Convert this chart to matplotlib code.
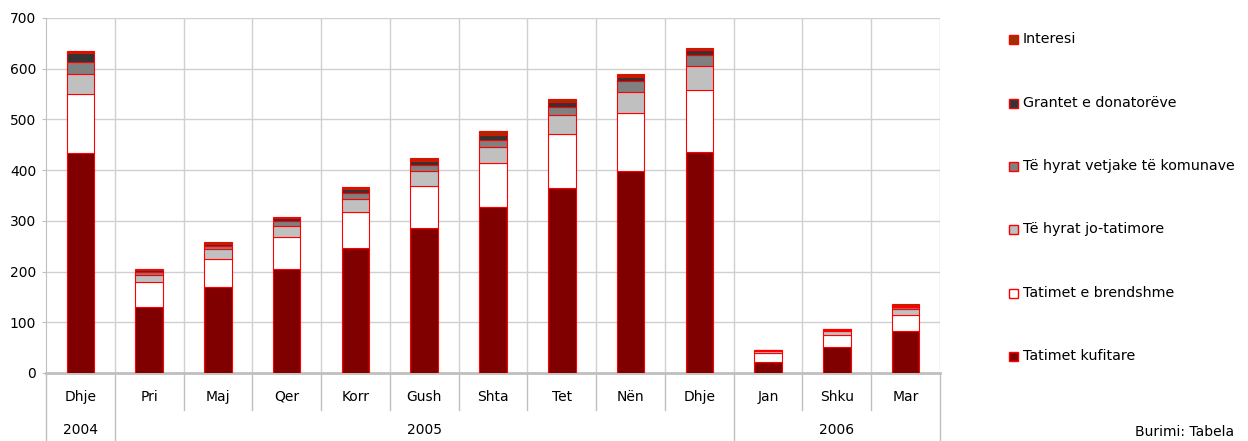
import matplotlib
matplotlib.use("Agg")
import matplotlib.pyplot as plt
import matplotlib.transforms as mtransforms
from matplotlib.patches import Rectangle
import numpy as np

months = ["Dhje", "Pri", "Maj", "Qer", "Korr", "Gush", "Shta", "Tet", "Nën", "Dhje", "Jan", "Shku", "Mar"]
years = ["2004", "2005", "2006"]
year_spans = [(0, 0), (1, 9), (10, 12)]

series_names = ["Tatimet kufitare", "Tatimet e brendshme", "Të hyrat jo-tatimore",
                "Të hyrat vetjake të komunave", "Grantet e donatorëve", "Interesi"]
tatimet_kufitare = [434, 130, 170, 205, 246, 285, 327, 365, 398, 435, 22, 51, 82]
tatimet_brendshme = [116, 50, 55, 63, 71, 84, 87, 106, 115, 124, 17, 24, 32]
jo_tatimore = [40, 13, 20, 22, 26, 29, 32, 38, 42, 47, 4, 8, 12]
vetjake = [23, 7, 6, 10, 12, 12, 13, 16, 21, 22, 1.5, 2, 4]
grantet = [17, 3, 4, 5, 7, 8, 10, 10, 8, 9, 1, 1, 3]
interesi = [4, 2, 3, 3, 4, 6, 8, 5, 5, 4, 0.5, 1, 3]
values = [tatimet_kufitare, tatimet_brendshme, jo_tatimore, vetjake, grantet, interesi]
colors = ["#800000", "#FFFFFF", "#C0C0C0", "#808080", "#333333", "#993300"]

W, H = 1248, 441
fig = plt.figure(figsize=(W / 100, H / 100), dpi=100)
L, R, T, B = 46, 940, 18, 373
ax = fig.add_axes([L / W, 1 - B / H, (R - L) / W, (B - T) / H])

x = np.arange(len(months))
bottom = np.zeros(len(months))
for name, vals, c in zip(series_names, values, colors):
    v = np.array(vals, dtype=float)
    ax.bar(x, v, bottom=bottom, width=0.4, color=c, edgecolor="#FF0000", linewidth=0.8,
           label=name, zorder=3)
    bottom += v

ax.set_xlim(-0.5, len(months) - 0.5)
ax.set_ylim(0, 700)
ax.set_yticks(range(0, 701, 100))
ax.tick_params(axis="y", labelsize=10, length=3, color="#BFBFBF", pad=4)
ax.set_xticks([])
grid_c = "#D0D0D0"
for yv in range(100, 701, 100):
    ax.axhline(yv, color=grid_c, lw=1, zorder=1)
for b in np.arange(0.5, len(months) - 0.5, 1.0):
    ax.axvline(b, color=grid_c, lw=1, zorder=1)
ax.axvline(len(months) - 0.5, color=grid_c, lw=1, zorder=1)
for s in ["top", "right"]:
    ax.spines[s].set_visible(False)
ax.spines["left"].set_color("#BFBFBF")
ax.spines["bottom"].set_color("#BFBFBF")
ax.spines["bottom"].set_linewidth(2)

# category axis table
trans = mtransforms.blended_transform_factory(ax.transData, ax.transAxes)
px = 1.0 / (B - T)  # one pixel in axes coords
for i, m in enumerate(months):
    ax.text(i, -24 * px, m, ha="center", va="center", fontsize=10, transform=trans, clip_on=False)
boundaries = np.arange(-0.5, len(months), 1.0)
group_edges = set()
for s, e in year_spans:
    group_edges.add(s - 0.5)
    group_edges.add(e + 0.5)
for b in boundaries:
    low = -68 * px if b in group_edges else -37 * px
    ax.plot([b, b], [0, low], color="#BFBFBF", lw=1, transform=trans, clip_on=False)
for (s, e), yr in zip(year_spans, years):
    ax.text((s + e) / 2, -57 * px, yr, ha="center", va="center", fontsize=10,
            transform=trans, clip_on=False)

# legend (manual)
leg_y = [356, 293, 229, 166, 103, 39]
for name, c, yy in zip(series_names, colors, leg_y):
    fig.patches.append(Rectangle(((1009) / W, 1 - (yy + 5) / H), 9 / W, 9 / H,
                                 facecolor=c, edgecolor="#FF0000", lw=1,
                                 transform=fig.transFigure, figure=fig))
    fig.text(1023 / W, 1 - yy / H, name, fontsize=10.3, va="center", ha="left")

fig.text(1135 / W, 1 - 439 / H, "Burimi: Tabela", fontsize=10, va="bottom", ha="left")

fig.savefig("out.png", dpi=100)
